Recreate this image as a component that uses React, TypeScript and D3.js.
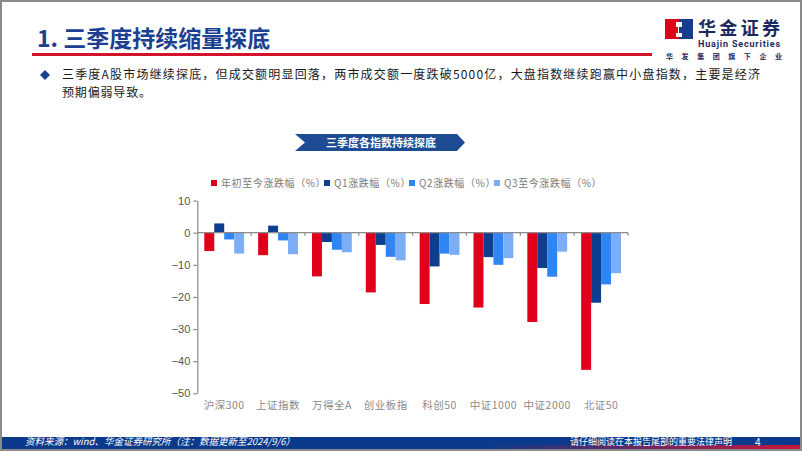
import React, { useRef, useEffect } from 'react';
import * as d3 from 'd3';

// categories and series
const categories = ['沪深300', '上证指数', '万得全A', '创业板指', '科创50', '中证1000', '中证2000', '北证50'];
const seriesNames = ['年初至今涨跌幅（%）', 'Q1涨跌幅（%）', 'Q2涨跌幅（%）', 'Q3至今涨跌幅（%）'];
const ytd = [-5.7, -7.0, -13.6, -18.6, -22.2, -23.3, -27.8, -42.7];
const q1 = [2.9, 2.2, -2.9, -3.8, -10.5, -7.6, -11.0, -21.8];
const q2 = [-2.1, -2.4, -5.3, -7.5, -6.5, -10.0, -13.7, -16.1];
const q3 = [-6.5, -6.7, -6.1, -8.6, -6.9, -7.9, -5.9, -12.6];
const yTicks = [10, 0, -10, -20, -30, -40, -50];
const colors = ['#E0001B', '#0E3F8E', '#2F85F2', '#7BAEF6'];

const CJK = '"Noto Sans CJK SC", "Noto Sans", sans-serif';

const App = () => {
  const ref = useRef<SVGSVGElement | null>(null);

  useEffect(() => {
    if (!ref.current) return;
    const svg = d3.select(ref.current);
    svg.selectAll('*').remove();

    const W = 802;
    const H = 451;
    const defs = svg.append('defs');
    const grad = defs.append('linearGradient').attr('id', 'footRed').attr('x1', '0').attr('x2', '1');
    grad.append('stop').attr('offset', '0').attr('stop-color', '#0B3A8C');
    grad.append('stop').attr('offset', '0.6').attr('stop-color', '#0B3A8C');
    grad.append('stop').attr('offset', '1').attr('stop-color', '#C8163A');

    svg.append('rect').attr('width', W).attr('height', H).attr('fill', '#fff');

    // header
    svg.append('text')
      .attr('x', 37).attr('y', 47)
      .attr('font-family', CJK).attr('font-size', 23).attr('font-weight', 700)
      .attr('fill', '#1C3F8F')
      .text('1. 三季度持续缩量探底');
    svg.append('rect').attr('x', 32).attr('y', 53).attr('width', 620).attr('height', 3).attr('fill', '#D3132B');

    // logo
    const logo = svg.append('g');
    logo.append('rect').attr('x', 665).attr('y', 19).attr('width', 14).attr('height', 20).attr('fill', '#E1001A');
    logo.append('rect').attr('x', 679).attr('y', 19).attr('width', 14).attr('height', 20).attr('fill', '#1A3C8E');
    logo.append('path').attr('d', 'M676,22 h6 v5 h-3 v6 h3 v4 h-6 v-4 h2 v-6 h-2 z').attr('fill', '#fff');
    logo.append('text').attr('x', 698).attr('y', 35)
      .attr('font-family', CJK).attr('font-size', 18).attr('font-weight', 700).attr('fill', '#1B2A5E')
      .attr('textLength', 82).text('华金证券');
    logo.append('text').attr('x', 698).attr('y', 47)
      .attr('font-family', 'Roboto, sans-serif').attr('font-size', 9).attr('font-weight', 700).attr('fill', '#1B2A5E')
      .attr('textLength', 82).text('Huajin Securities');
    logo.append('text').attr('x', 666).attr('y', 59)
      .attr('font-family', CJK).attr('font-size', 7).attr('font-weight', 700).attr('fill', '#1B2A5E')
      .attr('textLength', 116).text('华 发 集 团 旗 下 企 业');

    // bullet text
    svg.append('path').attr('d', 'M45,70 L50,75 L45,80 L40,75 Z').attr('fill', '#1C3F8F');
    const body = svg.append('g').attr('font-family', CJK).attr('font-size', 12).attr('fill', '#1a1a1a');
    body.append('text').attr('x', 62).attr('y', 79).attr('textLength', 698)
      .text('三季度A股市场继续探底，但成交额明显回落，两市成交额一度跌破5000亿，大盘指数继续跑赢中小盘指数，主要是经济');
    body.append('text').attr('x', 62).attr('y', 97).attr('textLength', 89).text('预期偏弱导致。');

    // chart banner
    svg.append('path')
      .attr('d', 'M295,134 L457,134 L465,142.5 L457,151 L295,151 L305,142.5 Z')
      .attr('fill', '#1D4C95');
    svg.append('text').attr('x', 381).attr('y', 146.5).attr('text-anchor', 'middle')
      .attr('font-family', CJK).attr('font-size', 11).attr('font-weight', 700).attr('fill', '#fff')
      .text('三季度各指数持续探底');

    // legend
    const legendX = [211, 324, 409, 494];
    const legend = svg.append('g').attr('font-family', CJK).attr('font-size', 10);
    seriesNames.forEach((name, i) => {
      legend.append('rect').attr('x', legendX[i]).attr('y', 180).attr('width', 6).attr('height', 6).attr('fill', colors[i]);
      legend.append('text').attr('x', legendX[i] + 10).attr('y', 186.5).attr('fill', '#7a7a7a')
        .attr('letter-spacing', 0.6).text(name);
    });

    // chart
    const x0 = d3.scaleBand<string>().domain(categories).range([197.3, 628]).padding(0);
    const x1 = d3.scaleBand<number>().domain([0, 1, 2, 3])
      .range([x0.bandwidth() * 0.13, x0.bandwidth() * 0.87]).padding(0);
    const y = d3.scaleLinear().domain([-50, 10]).range([393.3, 200.6]);
    const series = [ytd, q1, q2, q3];

    const bars = svg.append('g');
    categories.forEach((c, ci) => {
      series.forEach((s, si) => {
        const v = s[ci];
        bars.append('rect')
          .attr('x', (x0(c) ?? 0) + (x1(si) ?? 0))
          .attr('y', y(Math.max(0, v)))
          .attr('width', x1.bandwidth())
          .attr('height', Math.abs(y(v) - y(0)))
          .attr('fill', colors[si]);
      });
    });

    // x axis at zero
    const xAxis = svg.append('g').attr('stroke', '#8c8c8c').attr('stroke-width', 1.2);
    xAxis.append('line').attr('x1', 197.3).attr('x2', 628).attr('y1', y(0)).attr('y2', y(0));
    categories.forEach((c) => {
      const xx = (x0(c) ?? 0) + x0.bandwidth();
      xAxis.append('line').attr('x1', xx).attr('x2', xx).attr('y1', y(0)).attr('y2', y(0) + 3);
    });

    // y axis
    const yAxis = svg.append('g')
      .attr('transform', 'translate(197.3,0)')
      .call(d3.axisLeft(y).tickValues(yTicks).tickSize(4).tickSizeOuter(0).tickPadding(3));
    yAxis.select('.domain').attr('stroke', '#8c8c8c').attr('stroke-width', 1.2);
    yAxis.selectAll('.tick line').attr('stroke', '#8c8c8c').attr('stroke-width', 1.2);
    yAxis.selectAll('.tick text').attr('fill', '#555').attr('font-size', 11)
      .attr('font-family', 'Arial, "Liberation Sans", sans-serif');

    // category labels
    svg.append('g').selectAll('text').data(categories).enter().append('text')
      .attr('x', (d) => (x0(d) ?? 0) + x0.bandwidth() / 2)
      .attr('y', 409)
      .attr('text-anchor', 'middle')
      .attr('font-family', CJK).attr('font-size', 10.5).attr('fill', '#8a8a8a')
      .attr('letter-spacing', 0.5)
      .text((d) => d);

    // footer
    svg.append('rect').attr('x', 0).attr('y', 437).attr('width', W).attr('height', 14).attr('fill', '#0B3A8C');
    svg.append('rect').attr('x', 0).attr('y', 445).attr('width', W).attr('height', 6).attr('fill', 'url(#footRed)');
    svg.append('text').attr('x', 25).attr('y', 445)
      .attr('font-family', CJK).attr('font-size', 9.5).attr('font-style', 'italic').attr('fill', '#fff')
      .text('资料来源：wind、华金证券研究所（注：数据更新至2024/9/6）');
    svg.append('text').attr('x', 570).attr('y', 445)
      .attr('font-family', CJK).attr('font-size', 9).attr('fill', '#fff')
      .text('请仔细阅读在本报告尾部的重要法律声明');
    svg.append('text').attr('x', 755).attr('y', 446)
      .attr('font-family', 'Arial, sans-serif').attr('font-size', 10).attr('fill', '#fff')
      .text('4');

    // page frame
    svg.append('rect').attr('x', 1).attr('y', 1).attr('width', W - 2).attr('height', H - 2)
      .attr('fill', 'none').attr('stroke', '#8a8a8a').attr('stroke-width', 2);
  }, []);

  return (
    <svg
      ref={ref}
      width={802}
      height={451}
      style={{ position: 'absolute', left: 0, top: 0, display: 'block' }}
    />
  );
};

export default App;
